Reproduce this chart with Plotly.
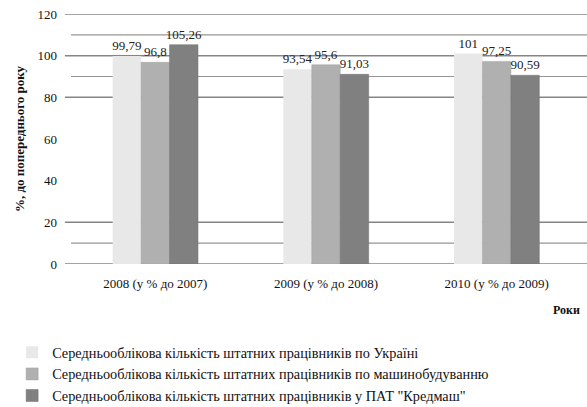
import plotly.graph_objects as go

categories = ["2008 (у % до 2007)", "2009 (у % до 2008)", "2010 (у % до 2009)"]
ukraine = [99.79, 93.54, 101]
machine = [96.8, 95.6, 97.25]
kredmash = [105.26, 91.03, 90.59]
series_names = [
    "Середньооблікова кількість штатних працівників по Україні",
    "Середньооблікова кількість штатних працівників по машинобудуванню",
    "Середньооблікова кількість штатних працівників у ПАТ \"Кредмаш\"",
]
major_grid = [0, 20, 80, 100, 120]
minor_grid = [10, 90, 110]
y_ticks = [0, 20, 40, 60, 80, 100, 120]

def fmt(v):
    s = ("%.2f" % v).rstrip("0").rstrip(".")
    return s.replace(".", ",")

FONT = "Liberation Serif"
fig = go.Figure()
fig.add_trace(go.Bar(
    x=categories, y=ukraine, name=series_names[0], legendgroup="a",
    text=[fmt(v) for v in ukraine], textposition="outside",
    marker=dict(color="#ececec", line=dict(width=0),
                pattern=dict(shape=".", fgcolor="#d2d2d2", bgcolor="#ededed", size=2, solidity=0.4)),
))
fig.add_trace(go.Bar(
    x=categories, y=machine, name=series_names[1], legendgroup="b",
    text=[fmt(v) for v in machine], textposition="outside",
    marker=dict(color="#b0b0b0", line=dict(width=0.5, color="#a0a0a0")),
))
fig.add_trace(go.Bar(
    x=categories, y=kredmash, name=series_names[2], legendgroup="c",
    text=[fmt(v) for v in kredmash], textposition="outside",
    marker=dict(color="#808080", line=dict(width=0.5, color="#707070")),
))
fig.update_traces(textfont=dict(family=FONT, size=13, color="#222"), cliponaxis=False,
                  constraintext="none")

for g in major_grid:
    fig.add_shape(type="line", xref="paper", yref="y", x0=-0.01, x1=1.01, y0=g, y1=g,
                  line=dict(color="#858585", width=1.5), layer="below")
for g in minor_grid:
    fig.add_shape(type="line", xref="paper", yref="y", x0=0.002, x1=1.01, y0=g, y1=g,
                  line=dict(color="#959595", width=1.2), layer="below")

fig.add_annotation(text="<b>Роки</b>", xref="paper", yref="paper", x=1.0, y=-0.184,
                   xanchor="right", yanchor="middle", showarrow=False,
                   font=dict(family=FONT, size=12, color="#111"))

fig.update_layout(
    width=587, height=407,
    margin=dict(l=70, r=5, t=14, b=143, autoexpand=False),
    paper_bgcolor="white", plot_bgcolor="white",
    barmode="group", bargap=0.5, bargroupgap=0,
    font=dict(family=FONT, size=13, color="#111"),
    showlegend=True,
    legend=dict(orientation="v", x=-0.113, xanchor="left", y=-0.29, yanchor="top",
                font=dict(family=FONT, size=14.3, color="#111"), tracegroupgap=6,
                traceorder="normal", itemwidth=30, bgcolor="rgba(0,0,0,0)"),
    xaxis=dict(showgrid=False, showline=False, ticks="", tickfont=dict(size=13),
               ticklabelstandoff=10),
    yaxis=dict(range=[0, 120], tickvals=y_ticks, showgrid=False, zeroline=False,
               showline=False, ticks="", ticklabelstandoff=12, tickfont=dict(size=13),
               title=dict(text="<b>%, до попереднього року</b>", standoff=9,
                          font=dict(family=FONT, size=13))),
)
fig.write_html("out.html")
